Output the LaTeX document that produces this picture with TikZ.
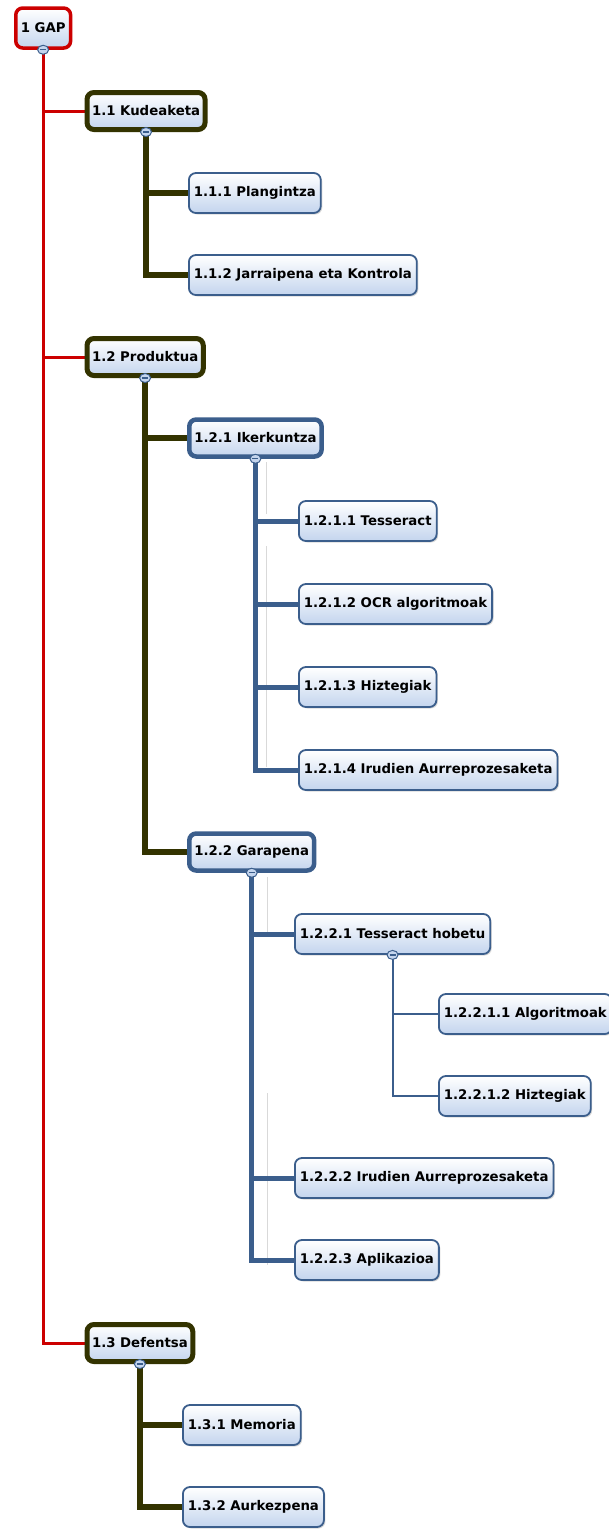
\documentclass[tikz,border=0pt]{standalone}
\usepackage{fontspec}
\setmainfont{DejaVu Sans}
\usetikzlibrary{shadows,backgrounds,shapes.geometric}
\definecolor{gapred}{RGB}{204,0,0}
\definecolor{darkolive}{RGB}{51,51,0}
\definecolor{wbsblue}{RGB}{59,94,140}
\definecolor{boxfill}{RGB}{196,213,238}

\begin{document}
\begin{tikzpicture}[x=1pt,y=-1pt,box/.style={rounded corners=7pt, anchor=west, minimum height=40pt, inner xsep=5pt, font=\fontsize{13.3}{15}\selectfont\bfseries, top color=white, bottom color=boxfill, drop shadow={opacity=0.3,shadow xshift=1.5pt,shadow yshift=-1.5pt}},root/.style={box, draw=gapred, line width=3.5pt},phase/.style={box, draw=darkolive, line width=5pt, minimum height=37pt},task/.style={box, draw=wbsblue, line width=4.5pt, minimum height=37pt},leaf/.style={box, draw=wbsblue, line width=1.8pt},redline/.style={gapred, line width=3pt},oliveline/.style={darkolive, line width=6pt},blueline/.style={wbsblue, line width=5pt},thinline/.style={wbsblue, line width=2pt},guide/.style={black!15, line width=1pt},toggle/.style={ellipse, draw=wbsblue, line width=1pt, fill=boxfill, inner sep=0pt, minimum width=11pt, minimum height=9pt, path picture={\draw[wbsblue,line width=1.3pt] ([xshift=-3pt]path picture bounding box.center) -- ([xshift=3pt]path picture bounding box.center);}}]
\useasboundingbox (0,0) rectangle (608,1529);
% nodes
\node[root] (gap) at (14,28) {1 GAP};
\node[phase] (kud) at (84.5,111) {1.1 Kudeaketa};
\node[leaf] (plan) at (188,193) {1.1.1 Plangintza};
\node[leaf] (jarr) at (188,275) {1.1.2 Jarraipena eta Kontrola};
\node[phase] (prod) at (84.5,357) {1.2 Produktua};
\node[task] (iker) at (187,438) {1.2.1 Ikerkuntza};
\node[leaf] (tess) at (298,521) {1.2.1.1 Tesseract};
\node[leaf] (ocr) at (298,604) {1.2.1.2 OCR algoritmoak};
\node[leaf] (hizt) at (298,687) {1.2.1.3 Hiztegiak};
\node[leaf] (irud) at (298,770) {1.2.1.4 Irudien Aurreprozesaketa};
\node[task] (gara) at (187,852) {1.2.2 Garapena};
\node[leaf] (thob) at (294,934) {1.2.2.1 Tesseract hobetu};
\node[leaf] (algo) at (438,1014) {1.2.2.1.1 Algoritmoak};
\node[leaf] (hiztb) at (438,1096) {1.2.2.1.2 Hiztegiak};
\node[leaf] (irudb) at (294,1178) {1.2.2.2 Irudien Aurreprozesaketa};
\node[leaf] (apli) at (294,1260) {1.2.2.3 Aplikazioa};
\node[phase] (def) at (84.5,1343) {1.3 Defentsa};
\node[leaf] (mem) at (182,1425) {1.3.1 Memoria};
\node[leaf] (aurk) at (182,1507) {1.3.2 Aurkezpena};
% connectors
\begin{scope}[on background layer]
\draw[guide] (266,462) -- (266,514) (266,546) -- (266,767);
\draw[guide] (267,877) -- (267,934) (267,1093) -- (267,1265);
\draw[redline] (gap.south) |- (def.west);
\draw[redline] (gap.south |- kud.west) -- (kud.west);
\draw[redline] (gap.south |- prod.west) -- (prod.west);
\draw[oliveline] (kud.south) |- (jarr.west);
\draw[oliveline] (kud.south |- plan.west) -- (plan.west);
\draw[oliveline] (prod.south) |- (gara.west);
\draw[oliveline] (prod.south |- iker.west) -- (iker.west);
\draw[blueline] (iker.south) |- (irud.west);
\draw[blueline] (iker.south |- tess.west) -- (tess.west);
\draw[blueline] (iker.south |- ocr.west) -- (ocr.west);
\draw[blueline] (iker.south |- hizt.west) -- (hizt.west);
\draw[blueline] (gara.south) |- (apli.west);
\draw[blueline] (gara.south |- thob.west) -- (thob.west);
\draw[blueline] (gara.south |- irudb.west) -- (irudb.west);
\draw[thinline] (thob.south) |- (hiztb.west);
\draw[thinline] (thob.south |- algo.west) -- (algo.west);
\draw[oliveline] (def.south) |- (aurk.west);
\draw[oliveline] (def.south |- mem.west) -- (mem.west);
\end{scope}
% collapse buttons
\node[toggle] (gapt) at (gap.south) {};
\node[toggle] (kudt) at (kud.south) {};
\node[toggle] (prodt) at (prod.south) {};
\node[toggle] (ikert) at (iker.south) {};
\node[toggle] (garat) at (gara.south) {};
\node[toggle] (thobt) at (thob.south) {};
\node[toggle] (deft) at (def.south) {};
\end{tikzpicture}
\end{document}
